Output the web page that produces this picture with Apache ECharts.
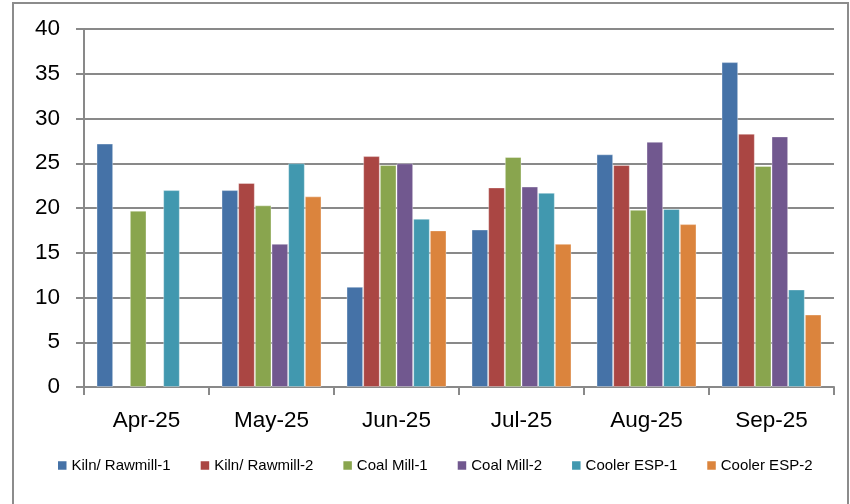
<!DOCTYPE html>
<html>
<head>
<meta charset="utf-8">
<script src="https://cdn.jsdelivr.net/npm/echarts@6/dist/echarts.min.js"></script>
<style>html,body{margin:0;padding:0;background:#fff}#c{width:850px;height:504px}</style>
</head>
<body>
<div id="c"></div>
<script>
const categories = ['Apr-25', 'May-25', 'Jun-25', 'Jul-25', 'Aug-25', 'Sep-25'];
const seriesNames = ['Kiln/ Rawmill-1', 'Kiln/ Rawmill-2', 'Coal Mill-1', 'Coal Mill-2', 'Cooler ESP-1', 'Cooler ESP-2'];
const kiln1 = [27.2, 22.0, 11.2, 17.6, 26.0, 36.3];
const kiln2 = [null, 22.8, 25.8, 22.3, 24.8, 28.3];
const coal1 = [19.7, 20.3, 24.8, 25.7, 19.8, 24.7];
const coal2 = [null, 16.0, 25.0, 22.4, 27.4, 28.0];
const esp1 = [22.0, 25.0, 18.8, 21.7, 19.9, 10.9];
const esp2 = [null, 21.3, 17.5, 16.0, 18.2, 8.1];
const yTicks = [0, 5, 10, 15, 20, 25, 30, 35, 40];
const colors = ['#4572A7', '#AA4643', '#89A54E', '#71588F', '#4198AF', '#DB843D'];
const allData = [kiln1, kiln2, coal1, coal2, esp1, esp2];

const chart = echarts.init(document.getElementById('c'));
const font = 'Liberation Sans, Arial, sans-serif';
chart.setOption({
  animation: false,
  color: colors,
  graphic: [{
    type: 'rect',
    shape: { x: 13, y: 3, width: 835, height: 540 },
    style: { fill: 'none', stroke: '#8c8c8c', lineWidth: 2 },
    silent: true, z: -1
  }],
  grid: { left: 84, right: 16, top: 29, bottom: 117 },
  legend: {
    left: 58, top: 458, padding: 0,
    itemWidth: 8.5, itemHeight: 8.5, itemGap: 30,
    icon: 'rect',
    itemStyle: { borderWidth: 0 },
    textStyle: { fontFamily: font, fontSize: 15, color: '#000' },
    data: seriesNames
  },
  xAxis: {
    type: 'category',
    data: categories,
    axisLine: { lineStyle: { color: '#898989', width: 2 } },
    axisTick: { show: true, length: 8, lineStyle: { color: '#898989', width: 2 }, alignWithLabel: false },
    axisLabel: { fontFamily: font, fontSize: 22.5, color: '#000', margin: 22 }
  },
  yAxis: {
    type: 'value',
    min: 0, max: 40, interval: 5,
    axisLine: { show: true, lineStyle: { color: '#898989', width: 2 } },
    axisTick: { show: true, length: 8, lineStyle: { color: '#898989', width: 2 } },
    splitLine: { lineStyle: { color: '#898989', width: 2 } },
    axisLabel: {
      fontFamily: font, fontSize: 22.5, color: '#000', margin: 24,
      formatter: v => yTicks.includes(v) ? String(v) : ''
    }
  },
  series: seriesNames.map((n, i) => ({
    name: n,
    type: 'bar',
    data: allData[i],
    barGap: '0%',
    barCategoryGap: '20%',
    itemStyle: { color: colors[i], borderColor: 'rgba(255,255,255,0.35)', borderWidth: 1 }
  }))
});
</script>
</body>
</html>
